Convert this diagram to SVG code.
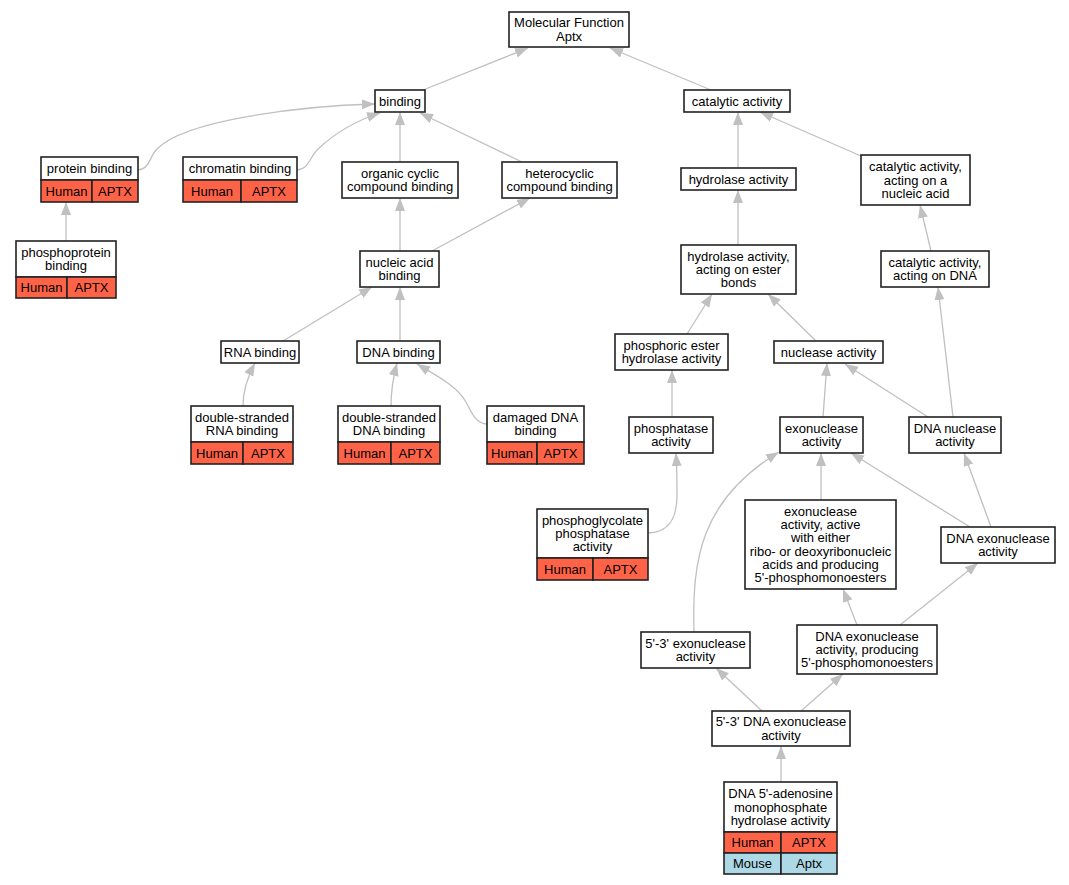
<svg xmlns="http://www.w3.org/2000/svg" width="1069" height="885" viewBox="0 0 1069 885">
<style>
.bg{fill:#fff}
.box{fill:#fff;stroke:#222;stroke-width:1.6}
.hum{fill:#ff6347;stroke:#222;stroke-width:1.6}
.mou{fill:#add8e6;stroke:#222;stroke-width:1.6}
text{font-family:"Liberation Sans",Arial,sans-serif;font-size:13px;fill:#000;text-anchor:middle}
.e{fill:none;stroke:#c0c0c0;stroke-width:1.3;marker-end:url(#ah)}
</style>
<defs>
<marker id="ah" markerUnits="userSpaceOnUse" markerWidth="14" markerHeight="11" refX="13" refY="5" orient="auto">
<path d="M0,0 L13,5 L0,10 z" fill="#c0c0c0"/>
</marker>
</defs>
<rect class="bg" x="0" y="0" width="1069" height="885"/>
<g id="edges">
<path class="e" d="M423,90 L528,48"/>
<path class="e" d="M711,90 L610,48"/>
<path class="e" d="M138,170 C150,169 149,157 157,149 C185,120 300,106 375,104"/>
<path class="e" d="M297,170 C309,169 309,158 318,149 C335,133 358,120 380,113"/>
<path class="e" d="M400,162 L400,112"/>
<path class="e" d="M522,162 L420,113"/>
<path class="e" d="M66,241 L66,202"/>
<path class="e" d="M400,251 L400,198"/>
<path class="e" d="M432,251 L530,198"/>
<path class="e" d="M738,168 L738,112"/>
<path class="e" d="M861,156 L760,112"/>
<path class="e" d="M738,245 L738,190"/>
<path class="e" d="M931,251 L920,205"/>
<path class="e" d="M283,341 L372,287"/>
<path class="e" d="M400,341 L400,287"/>
<path class="e" d="M687,334 L712,294"/>
<path class="e" d="M816,341 L768,294"/>
<path class="e" d="M953,417 L938,287"/>
<path class="e" d="M243,406 C243,392 248,376 255,363"/>
<path class="e" d="M391,406 C391,394 393,378 397,363"/>
<path class="e" d="M487,424 C476,424 471,412 466,402 C457,386 437,376 417,364"/>
<path class="e" d="M672,417 L672,370"/>
<path class="e" d="M823,417 L827,363"/>
<path class="e" d="M928,417 L845,364"/>
<path class="e" d="M647,533 C668,533 677,520 677,495 C677,480 677,470 676,453"/>
<path class="e" d="M970,527 L851,453"/>
<path class="e" d="M991,527 L964,453"/>
<path class="e" d="M821,500 L821,453"/>
<path class="e" d="M694,632 C692,560 700,500 779,452"/>
<path class="e" d="M857,625 L843,589"/>
<path class="e" d="M900,625 L978,563"/>
<path class="e" d="M762,711 L716,668"/>
<path class="e" d="M801,711 L843,674"/>
<path class="e" d="M781,782 L781,746"/>
</g>
<g id="n_mf"><rect class="box" x="509" y="12" width="120" height="35"/><text x="569" y="27.3">Molecular Function</text><text x="569" y="40.6">Aptx</text></g>
<g id="n_binding"><rect class="box" x="375" y="90" width="50" height="22"/><text x="400" y="105.5">binding</text></g>
<g id="n_catalytic"><rect class="box" x="684" y="90" width="106" height="22"/><text x="737" y="105.5">catalytic activity</text></g>
<g id="n_protein"><rect class="box" x="41" y="157" width="97" height="23"/><text x="89.5" y="173">protein binding</text><rect class="hum" x="41" y="180" width="51" height="22"/><rect class="hum" x="92" y="180" width="46" height="22"/><text x="66.5" y="195.5">Human</text><text x="115" y="195.5">APTX</text></g>
<g id="n_chromatin"><rect class="box" x="183" y="157" width="114" height="23"/><text x="240" y="173">chromatin binding</text><rect class="hum" x="183" y="180" width="58" height="22"/><rect class="hum" x="241" y="180" width="56" height="22"/><text x="212" y="195.5">Human</text><text x="269" y="195.5">APTX</text></g>
<g id="n_organic"><rect class="box" x="342" y="162" width="116" height="36"/><text x="400" y="177.9">organic cyclic</text><text x="400" y="191.2">compound binding</text></g>
<g id="n_hetero"><rect class="box" x="502" y="162" width="115" height="36"/><text x="559.5" y="177.9">heterocyclic</text><text x="559.5" y="191.2">compound binding</text></g>
<g id="n_hydrolase"><rect class="box" x="681" y="168" width="115" height="22"/><text x="738.5" y="183.5">hydrolase activity</text></g>
<g id="n_cat_na"><rect class="box" x="861" y="155" width="109" height="50"/><text x="915.5" y="171.2">catalytic activity,</text><text x="915.5" y="184.5">acting on a</text><text x="915.5" y="197.8">nucleic acid</text></g>
<g id="n_phosphoprotein"><rect class="box" x="16" y="241" width="100" height="36"/><text x="66" y="256.9">phosphoprotein</text><text x="66" y="270.2">binding</text><rect class="hum" x="16" y="277" width="51" height="21"/><rect class="hum" x="67" y="277" width="49" height="21"/><text x="41.5" y="292">Human</text><text x="91.5" y="292">APTX</text></g>
<g id="n_nucleic"><rect class="box" x="360" y="251" width="79" height="36"/><text x="399.5" y="266.9">nucleic acid</text><text x="399.5" y="280.2">binding</text></g>
<g id="n_hyd_ester"><rect class="box" x="681" y="245" width="115" height="49"/><text x="738.5" y="260.7">hydrolase activity,</text><text x="738.5" y="274">acting on ester</text><text x="738.5" y="287.3">bonds</text></g>
<g id="n_cat_dna"><rect class="box" x="881" y="251" width="108" height="36"/><text x="935" y="266.9">catalytic activity,</text><text x="935" y="280.2">acting on DNA</text></g>
<g id="n_rna"><rect class="box" x="221" y="341" width="78" height="22"/><text x="260" y="356.5">RNA binding</text></g>
<g id="n_dna"><rect class="box" x="357" y="341" width="83" height="22"/><text x="398.5" y="356.5">DNA binding</text></g>
<g id="n_phos_ester"><rect class="box" x="615" y="334" width="113" height="36"/><text x="671.5" y="349.9">phosphoric ester</text><text x="671.5" y="363.2">hydrolase activity</text></g>
<g id="n_nuclease"><rect class="box" x="774" y="341" width="109" height="22"/><text x="828.5" y="356.5">nuclease activity</text></g>
<g id="n_dsrna"><rect class="box" x="191" y="406" width="102" height="36"/><text x="242" y="421.9">double-stranded</text><text x="242" y="435.2">RNA binding</text><rect class="hum" x="191" y="442" width="52" height="22"/><rect class="hum" x="243" y="442" width="50" height="22"/><text x="217" y="457.5">Human</text><text x="268" y="457.5">APTX</text></g>
<g id="n_dsdna"><rect class="box" x="338" y="406" width="102" height="36"/><text x="389" y="421.9">double-stranded</text><text x="389" y="435.2">DNA binding</text><rect class="hum" x="338" y="442" width="53" height="22"/><rect class="hum" x="391" y="442" width="49" height="22"/><text x="364.5" y="457.5">Human</text><text x="415.5" y="457.5">APTX</text></g>
<g id="n_damaged"><rect class="box" x="487" y="406" width="97" height="36"/><text x="535.5" y="421.9">damaged DNA</text><text x="535.5" y="435.2">binding</text><rect class="hum" x="487" y="442" width="50" height="22"/><rect class="hum" x="537" y="442" width="47" height="22"/><text x="512" y="457.5">Human</text><text x="560.5" y="457.5">APTX</text></g>
<g id="n_phosphatase"><rect class="box" x="629" y="417" width="84" height="36"/><text x="671" y="432.9">phosphatase</text><text x="671" y="446.2">activity</text></g>
<g id="n_exonuclease"><rect class="box" x="780" y="417" width="83" height="36"/><text x="821.5" y="432.9">exonuclease</text><text x="821.5" y="446.2">activity</text></g>
<g id="n_dna_nuclease"><rect class="box" x="909" y="417" width="92" height="36"/><text x="955" y="432.9">DNA nuclease</text><text x="955" y="446.2">activity</text></g>
<g id="n_phosphoglycolate"><rect class="box" x="537" y="509" width="111" height="49"/><text x="592.5" y="524.7">phosphoglycolate</text><text x="592.5" y="538">phosphatase</text><text x="592.5" y="551.3">activity</text><rect class="hum" x="537" y="558" width="56" height="22"/><rect class="hum" x="593" y="558" width="55" height="22"/><text x="565" y="573.5">Human</text><text x="620.5" y="573.5">APTX</text></g>
<g id="n_exo_either"><rect class="box" x="745" y="500" width="151" height="89"/><text x="820.5" y="515.8">exonuclease</text><text x="820.5" y="529.1">activity, active</text><text x="820.5" y="542.4">with either</text><text x="820.5" y="555.7">ribo- or deoxyribonucleic</text><text x="820.5" y="569">acids and producing</text><text x="820.5" y="582.3">5'-phosphomonoesters</text></g>
<g id="n_dna_exo"><rect class="box" x="941" y="527" width="114" height="36"/><text x="998" y="542.9">DNA exonuclease</text><text x="998" y="556.2">activity</text></g>
<g id="n_53exo"><rect class="box" x="641" y="632" width="109" height="36"/><text x="695.5" y="647.9">5'-3' exonuclease</text><text x="695.5" y="661.2">activity</text></g>
<g id="n_dna_exo_prod"><rect class="box" x="797" y="625" width="140" height="49"/><text x="867" y="640.7">DNA exonuclease</text><text x="867" y="654">activity, producing</text><text x="867" y="667.3">5'-phosphomonoesters</text></g>
<g id="n_53dnaexo"><rect class="box" x="712" y="711" width="138" height="35"/><text x="781" y="726.4">5'-3' DNA exonuclease</text><text x="781" y="739.7">activity</text></g>
<g id="n_amp"><rect class="box" x="724" y="782" width="113" height="50"/><text x="780.5" y="798.2">DNA 5'-adenosine</text><text x="780.5" y="811.5">monophosphate</text><text x="780.5" y="824.8">hydrolase activity</text><rect class="hum" x="724" y="832" width="57" height="21"/><rect class="hum" x="781" y="832" width="56" height="21"/><text x="752.5" y="847">Human</text><text x="809" y="847">APTX</text><rect class="mou" x="724" y="853" width="57" height="21"/><rect class="mou" x="781" y="853" width="56" height="21"/><text x="752.5" y="868">Mouse</text><text x="809" y="868">Aptx</text></g>
</svg>
